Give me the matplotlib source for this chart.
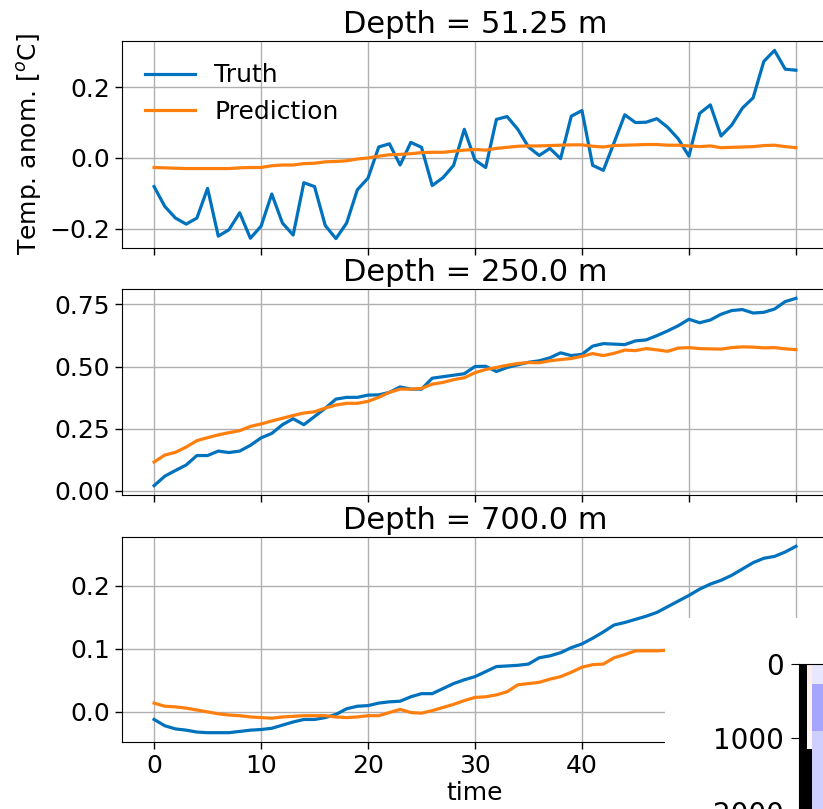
import numpy as np
import matplotlib
matplotlib.use("Agg")
import matplotlib.pyplot as plt
from matplotlib.colors import LinearSegmentedColormap

# time axis
time = np.arange(61)

# Depth = 51.25 m
truth_51 = [-0.081, -0.137, -0.170, -0.187, -0.170, -0.086, -0.221, -0.203, -0.155, -0.227,
            -0.193, -0.102, -0.184, -0.218, -0.070, -0.081, -0.191, -0.228, -0.184, -0.090,
            -0.057, 0.031, 0.040, -0.020, 0.044, 0.030, -0.078, -0.056, -0.021, 0.081,
            -0.006, -0.027, 0.109, 0.117, 0.081, 0.031, 0.007, 0.027, -0.002, 0.118,
            0.134, -0.021, -0.035, 0.043, 0.122, 0.100, 0.101, 0.111, 0.087, 0.054,
            0.005, 0.126, 0.150, 0.062, 0.093, 0.141, 0.170, 0.273, 0.304, 0.251, 0.248]
pred_51 = [-0.027, -0.028, -0.029, -0.030, -0.030, -0.030, -0.030, -0.030, -0.028, -0.027,
           -0.027, -0.022, -0.020, -0.020, -0.016, -0.015, -0.011, -0.010, -0.008, -0.003,
           0.000, 0.005, 0.009, 0.010, 0.012, 0.015, 0.016, 0.016, 0.019, 0.022,
           0.024, 0.022, 0.027, 0.030, 0.033, 0.034, 0.034, 0.035, 0.036, 0.037,
           0.037, 0.033, 0.031, 0.035, 0.036, 0.037, 0.038, 0.038, 0.036, 0.036,
           0.034, 0.032, 0.034, 0.029, 0.030, 0.031, 0.032, 0.035, 0.036, 0.032, 0.029]

# Depth = 250.0 m
truth_250 = [0.021, 0.059, 0.082, 0.104, 0.142, 0.142, 0.160, 0.154, 0.160, 0.183,
             0.213, 0.231, 0.266, 0.290, 0.266, 0.299, 0.332, 0.369, 0.376, 0.376,
             0.385, 0.386, 0.396, 0.418, 0.409, 0.409, 0.453, 0.459, 0.465, 0.471,
             0.500, 0.501, 0.480, 0.496, 0.507, 0.517, 0.523, 0.535, 0.555, 0.544,
             0.549, 0.582, 0.592, 0.590, 0.588, 0.603, 0.607, 0.624, 0.643, 0.664,
             0.690, 0.676, 0.687, 0.710, 0.725, 0.729, 0.715, 0.718, 0.731, 0.761, 0.774]
pred_250 = [0.116, 0.144, 0.155, 0.176, 0.202, 0.214, 0.225, 0.234, 0.242, 0.259,
            0.269, 0.281, 0.292, 0.303, 0.313, 0.318, 0.333, 0.345, 0.352, 0.352,
            0.360, 0.376, 0.396, 0.409, 0.409, 0.412, 0.429, 0.436, 0.447, 0.455,
            0.475, 0.488, 0.496, 0.505, 0.512, 0.516, 0.515, 0.523, 0.528, 0.532,
            0.541, 0.552, 0.544, 0.553, 0.566, 0.564, 0.572, 0.567, 0.561, 0.574,
            0.576, 0.572, 0.571, 0.570, 0.576, 0.579, 0.578, 0.575, 0.576, 0.571, 0.568]

# Depth = 700.0 m
truth_700 = [-0.012, -0.022, -0.027, -0.029, -0.032, -0.033, -0.033, -0.033, -0.031, -0.029,
             -0.028, -0.026, -0.021, -0.016, -0.012, -0.012, -0.009, -0.004, 0.005, 0.009,
             0.010, 0.014, 0.016, 0.017, 0.024, 0.029, 0.029, 0.037, 0.045, 0.051,
             0.056, 0.064, 0.072, 0.073, 0.074, 0.076, 0.086, 0.089, 0.094, 0.102,
             0.108, 0.117, 0.127, 0.138, 0.142, 0.147, 0.152, 0.158, 0.167, 0.176,
             0.185, 0.195, 0.203, 0.209, 0.217, 0.227, 0.237, 0.244, 0.247, 0.254, 0.263]
pred_700 = [0.014, 0.009, 0.008, 0.006, 0.003, 0.000, -0.003, -0.005, -0.006, -0.008,
            -0.009, -0.010, -0.008, -0.007, -0.006, -0.006, -0.006, -0.008, -0.009, -0.008,
            -0.006, -0.006, -0.001, 0.004, -0.001, -0.002, 0.002, 0.007, 0.012, 0.018,
            0.023, 0.024, 0.027, 0.032, 0.043, 0.045, 0.047, 0.052, 0.056, 0.063,
            0.071, 0.075, 0.076, 0.086, 0.091, 0.097, 0.097, 0.097, 0.098, 0.100,
            0.101, 0.103, 0.104, 0.106, 0.108, 0.109, 0.111, 0.112, 0.113, 0.114, 0.115]

depths = ["51.25", "250.0", "700.0"]

# section image in the corner (depth vs column)
sect_depth_edges = [0, 270, 900, 1150, 3000]
sect_col_edges = [0, 8, 13, 100]
sect_values = np.array([
    [np.nan, 0.10, -0.12],
    [np.nan, 0.06, -0.45],
    [np.nan, 0.04, -0.25],
    [np.nan, np.nan, -0.25],
])

blue = "#0072BD"
orange = "#FF7F0E"

fig = plt.figure(figsize=(8.23, 8.09), dpi=100)

W, H = 823, 809
def px_axes(x0, y0, x1, y1):
    return fig.add_axes([x0 / W, 1 - y1 / H, (x1 - x0) / W, (y1 - y0) / H])

ax1 = px_axes(122, 41, 828, 248)
ax2 = px_axes(122, 289, 828, 495)
ax3 = px_axes(122, 537, 828, 742)

series = [(truth_51, pred_51), (truth_250, pred_250), (truth_700, pred_700)]
for ax, (tr, pr), d in zip([ax1, ax2, ax3], series, depths):
    ax.plot(time, tr, color=blue, lw=2.3, label="Truth")
    ax.plot(time, pr, color=orange, lw=2.3, label="Prediction")
    ax.set_title(f"Depth = {d} m", fontsize=22)
    ax.grid(True, color="#b0b0b0", lw=1.0)
    ax.tick_params(labelsize=18, length=5, width=1)
    ax.set_xticks([0, 10, 20, 30, 40, 50, 60])

ax1.set_xticklabels([])
ax2.set_xticklabels([])
ax2.set_yticks([0.0, 0.25, 0.5, 0.75])
ax3.set_yticks([0.0, 0.1, 0.2])
ax1.set_ylabel("Temp. anom. [$^o$C]", fontsize=18)
ax3.set_xlabel("time", fontsize=18, labelpad=2)
ax1.legend(loc="upper left", fontsize=18, frameon=False)

# white panel of the neighbouring plot overlapping the last axes
cover = px_axes(665, 618, 900, 900)
cover.set_axis_off()
cover.add_patch(plt.Rectangle((0, 0), 1, 1, color="white", transform=cover.transAxes))

sect = px_axes(799, 664, 900, 886)
cmap = LinearSegmentedColormap.from_list("rb", ["#3a3aff", "#ffffff", "#ff3a3a"])
cmap.set_bad("black")
sect.pcolormesh(sect_col_edges, sect_depth_edges, np.ma.masked_invalid(sect_values),
                cmap=cmap, vmin=-1, vmax=1)
sect.set_ylim(3000, 0)
sect.set_yticks([0, 1000, 2000])
sect.set_xticks([])
sect.tick_params(labelsize=20, length=6, pad=5)

fig.savefig("out.png", dpi=100)
